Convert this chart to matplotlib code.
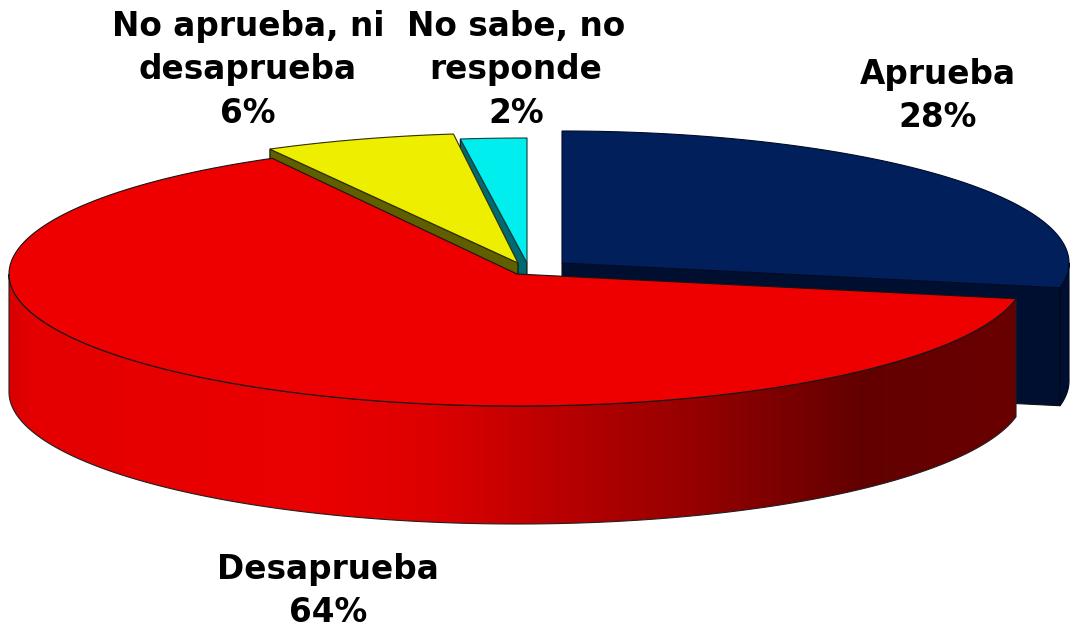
import numpy as np
import matplotlib
matplotlib.use("Agg")
import matplotlib.pyplot as plt
from matplotlib.patches import Polygon
from matplotlib.colors import LinearSegmentedColormap

categories = ["Aprueba", "Desaprueba", "No aprueba, ni\ndesaprueba", "No sabe, no\nresponde"]
values = [28, 64, 6, 2]
face_colors = ["#001F5B", "#EE0000", "#EEEE00", "#00EEEE"]
wall_colors = ["#000F30", "#660000", "#5F5F00", "#006A70"]

W, H = 1075, 634
DEPTH = 118
# centre x, centre y, radius x, radius y for each exploded slice
geom = [(562, 263, 507, 132), (517, 274, 508, 132), (518, 263, 515, 130), (527, 263, 532, 125)]
label_pos = [(938, 96), (328, 591), (248, 70), (516, 70)]

fig = plt.figure(figsize=(W / 100, H / 100), dpi=100)
ax = fig.add_axes([0, 0, 1, 1])
ax.set_axis_off()

fr = np.array(values) / sum(values) * 360
ends = 90 - np.cumsum(fr)
starts = ends + fr


def rim(g, a0, a1, n=240):
    t = np.radians(np.linspace(a0, a1, n))
    return np.c_[g[0] + g[2] * np.cos(t), g[1] - g[3] * np.sin(t)]


def poly(pts, fc, ec="#101010", lw=0.8, z=1):
    p = Polygon(pts, closed=True, facecolor=fc, edgecolor=ec, linewidth=lw, zorder=z)
    ax.add_patch(p)
    return p


def cut_wall(g, angle, color, z):
    apex = np.array([g[0], g[1]])
    e = rim(g, angle, angle, 1)[0]
    poly([apex, e, e + [0, DEPTH], apex + [0, DEPTH]], color, z=z)


def face(g, i, ec, z):
    poly(np.vstack([[g[0], g[1]], rim(g, ends[i], starts[i])]), face_colors[i], ec=ec, z=z)


# Back slices first: cyan and yellow cut walls, then their top faces
cut_wall(geom[3], starts[3], wall_colors[3], 1)
cut_wall(geom[2], starts[2], wall_colors[2], 2)
face(geom[2], 2, "#303000", 3)
face(geom[3], 3, "#104040", 3)

# Blue: cut wall, outer wall, top face
g = geom[0]
cut_wall(g, ends[0], wall_colors[0], 4)
outer = rim(g, ends[0], 0, 40)
poly(np.vstack([outer, (outer + [0, DEPTH])[::-1]]), wall_colors[0], ec="#000A20", z=5)
face(g, 0, "#000A28", 6)

# Red: outer wall with shading, top face
g = geom[1]
cols = LinearSegmentedColormap.from_list(
    "red_wall",
    [(0.0, "#D80000"), (0.02, "#E40000"), (0.30, "#EA0000"), (0.42, "#DD0000"),
     (0.55, "#B80000"), (0.70, "#900000"), (0.85, "#620000"), (1.0, "#6A0000")])
front = rim(g, -180, starts[1])
wall_pts = np.vstack([front, (front + [0, DEPTH])[::-1]])
wall = poly(wall_pts, "none", ec="none", z=7)
x0, x1 = wall_pts[:, 0].min(), wall_pts[:, 0].max()
im = ax.imshow(np.linspace(0, 1, 512)[None, :], cmap=cols, aspect="auto",
               extent=(x0, x1, wall_pts[:, 1].max(), wall_pts[:, 1].min()), zorder=7)
im.set_clip_path(wall)
poly(wall_pts, "none", ec="#202020", z=8)
face(g, 1, "#151515", 9)

for name, v, (x, y) in zip(categories, values, label_pos):
    ax.text(x, y, f"{name}\n{v}%", ha="center", va="center", family="DejaVu Sans",
            fontweight="bold", fontsize=23.6, linespacing=1.42, color="black", zorder=10)

ax.set_xlim(0, W)
ax.set_ylim(H, 0)
fig.savefig("out.png", dpi=100, facecolor="white")
